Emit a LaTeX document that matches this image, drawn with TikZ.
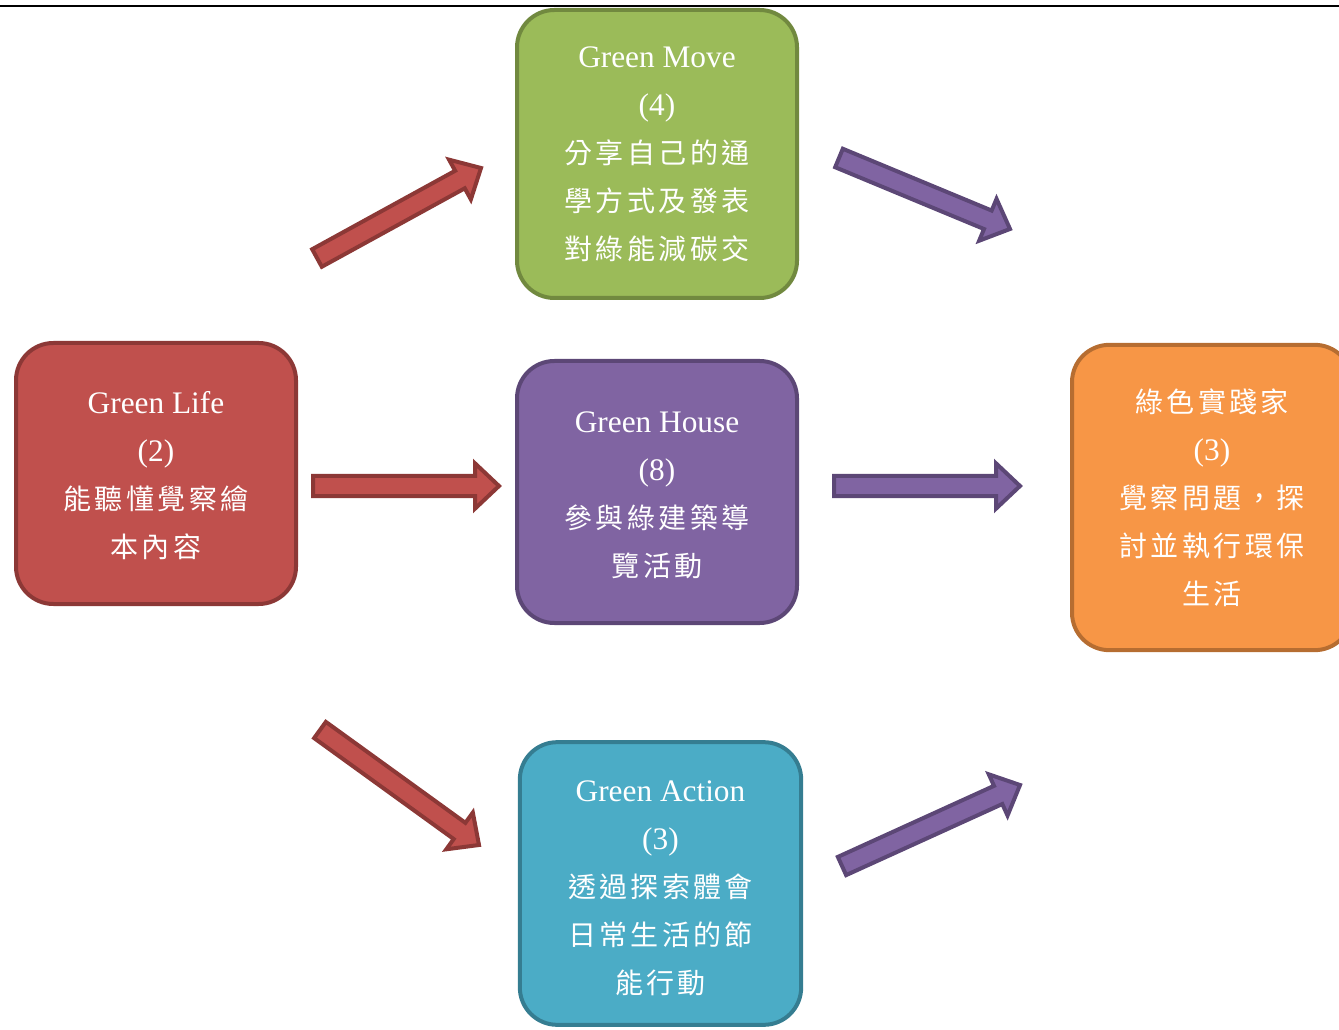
\documentclass[tikz,border=0pt]{standalone}
\usepackage{fontspec}
\setmainfont{Liberation Serif}
\newfontfamily\cjkfam[LetterSpace=12]{Noto Sans CJK TC}
\newcommand\cjk{\cjkfam\fontsize{21}{36}\selectfont}
\usetikzlibrary{calc}
\definecolor{redF}{HTML}{C0504D}\definecolor{redD}{HTML}{8C3836}
\definecolor{grnF}{HTML}{9BBB59}\definecolor{grnD}{HTML}{71893F}
\definecolor{purF}{HTML}{8064A2}\definecolor{purD}{HTML}{5C4776}
\definecolor{bluF}{HTML}{4BACC6}\definecolor{bluD}{HTML}{357D91}
\definecolor{orgF}{HTML}{F79646}\definecolor{orgD}{HTML}{B66D31}
\tikzset{
  box/.style={draw, line width=3pt, rounded corners=28pt, minimum width=210pt,
    text=white, align=center, inner sep=0pt,
    font=\fontsize{23.5}{36}\selectfont},
  redarrow/.style={draw=redD, fill=redF, line width=3pt, line join=miter},
  purarrow/.style={draw=purD, fill=purF, line width=3pt, line join=miter},
}
\newcommand\blockarrow[3]{%
  \coordinate (ba-h) at ($(#2)!18pt!(#1)$);
  \draw[#3] ($(#1)!7.5pt!90:(#2)$) -- ($(ba-h)!7.5pt!-90:(#1)$)
    -- ($(ba-h)!17pt!-90:(#1)$) -- (#2) -- ($(ba-h)!17pt!90:(#1)$)
    -- ($(ba-h)!7.5pt!90:(#1)$) -- ($(#1)!7.5pt!-90:(#2)$) -- cycle;
}
\begin{document}
\begin{tikzpicture}[x=0.75pt,y=-0.75pt]
\useasboundingbox (0,0) rectangle (1339,1030);
\clip (0,0) rectangle (1339,1030);
% boxes
\node[box, draw=redD, fill=redF, minimum height=195.75pt] (life) at (156,473.5)
  {\rule{0pt}{19.5pt}Green Life\\(2)\\{\cjk 能聽懂覺察繪}\\{\cjk 本內容}};
\node[box, draw=grnD, fill=grnF, minimum height=216pt] (move) at (657,154)
  {Green Move\\(4)\\{\cjk 分享自己的通}\\{\cjk 學方式及發表}\\{\cjk 對綠能減碳交}};
\node[box, draw=purD, fill=purF, minimum height=196.5pt] (house) at (657,492)
  {\rule{0pt}{21pt}Green House\\(8)\\{\cjk 參與綠建築導}\\{\cjk 覽活動}};
\node[box, draw=bluD, fill=bluF, minimum width=211pt, minimum height=212pt] (action) at (660.5,883.5)
  {\rule{0pt}{23pt}Green Action\\(3)\\{\cjk 透過探索體會}\\{\cjk 日常生活的節}\\{\cjk 能行動}};
\node[box, draw=orgD, fill=orgF, minimum height=229pt] (expert) at (1212,497.5)
  {{\cjk 綠色實踐家}\\(3)\\{\cjk 覺察問題，探}\\{\cjk 討並執行環保}\\{\cjk 生活}};
% arrow end points
\coordinate (a1s) at (317,258);  \coordinate (a1e) at (481,168);
\coordinate (a2s) at (839,158);  \coordinate (a2e) at (1010,229);
\coordinate (a3s) at (313,486);  \coordinate (a3e) at (499,486);
\coordinate (a4s) at (834,486);  \coordinate (a4e) at (1020,486);
\coordinate (a5s) at (320,730);  \coordinate (a5e) at (479,845);
\coordinate (a6s) at (842,866);  \coordinate (a6e) at (1020,785);
\blockarrow{a1s}{a1e}{redarrow}
\blockarrow{a3s}{a3e}{redarrow}
\blockarrow{a5s}{a5e}{redarrow}
\blockarrow{a2s}{a2e}{purarrow}
\blockarrow{a4s}{a4e}{purarrow}
\blockarrow{a6s}{a6e}{purarrow}
% top rule
\coordinate (ruleL) at (0,6); \coordinate (ruleR) at (1339,6);
\draw[line width=1.1pt] (ruleL) -- (ruleR);
\end{tikzpicture}
\end{document}
